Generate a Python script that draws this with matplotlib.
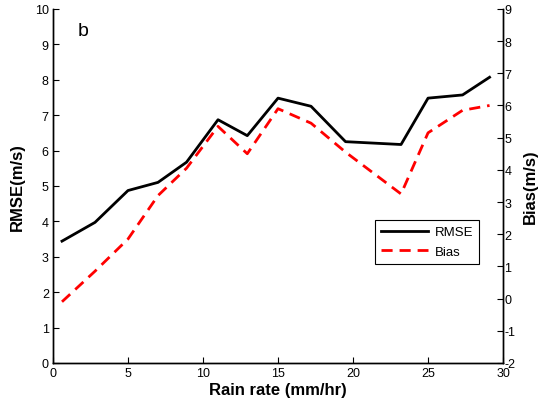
import matplotlib
matplotlib.use("Agg")
from matplotlib import pyplot as plt

# Rain rate bins (mm/hr)
rain = [0.6, 2.8, 5.0, 7.0, 8.9, 11.0, 12.95, 15.0, 17.2, 19.5, 23.2, 25.0, 27.3, 29.1]
rmse = [3.44, 3.97, 4.87, 5.10, 5.67, 6.87, 6.42, 7.48, 7.25, 6.25, 6.17, 7.48, 7.57, 8.07]
bias = [-0.1, 0.85, 1.85, 3.2, 4.05, 5.35, 4.5, 5.9, 5.45, 4.55, 3.25, 5.15, 5.85, 6.0]

plt.rcParams['font.family'] = ['Liberation Sans', 'DejaVu Sans']
plt.rcParams['axes.unicode_minus'] = False

fig = plt.figure(figsize=(5.48, 4.14), dpi=100)
ax = fig.add_axes([0.0967, 0.121, 0.8213, 0.855])
ax2 = ax.twinx()

l1, = ax.plot(rain, rmse, color='black', lw=2, label='RMSE')
l2, = ax2.plot(rain, bias, color='red', lw=2, ls=(0, (4, 2.5)), label='Bias')

ax.set_xlim(0, 30)
ax.set_ylim(0, 10)
ax2.set_ylim(-2, 9)
ax.set_xticks(range(0, 31, 5))
ax.set_yticks(range(0, 11))
ax2.set_yticks(range(-2, 10))

for a in (ax, ax2):
    a.spines['top'].set_visible(False)
    for s in a.spines.values():
        s.set_linewidth(1.0)
ax.tick_params(direction='in', length=4, labelsize=9, pad=3)
ax2.tick_params(direction='in', length=4, labelsize=9, pad=1)

ax.set_xlabel('Rain rate (mm/hr)', fontsize=12, fontweight='bold', labelpad=2)
ax.set_ylabel('RMSE(m/s)', fontsize=12, fontweight='bold', labelpad=7)
ax2.set_ylabel('Bias(m/s)', fontsize=12, fontweight='bold', labelpad=5)

ax.text(0.055, 0.94, 'b', transform=ax.transAxes, fontsize=14, va='center')

leg = ax.legend([l1, l2], ['RMSE', 'Bias'], loc='lower left',
                bbox_to_anchor=(0.715, 0.28), fontsize=9.5, frameon=True,
                fancybox=False, edgecolor='black', framealpha=1,
                handlelength=3.6, handletextpad=0.5, borderpad=0.45,
                labelspacing=0.55, borderaxespad=0)
leg.get_frame().set_linewidth(0.8)

fig.savefig('out.png', dpi=100)
